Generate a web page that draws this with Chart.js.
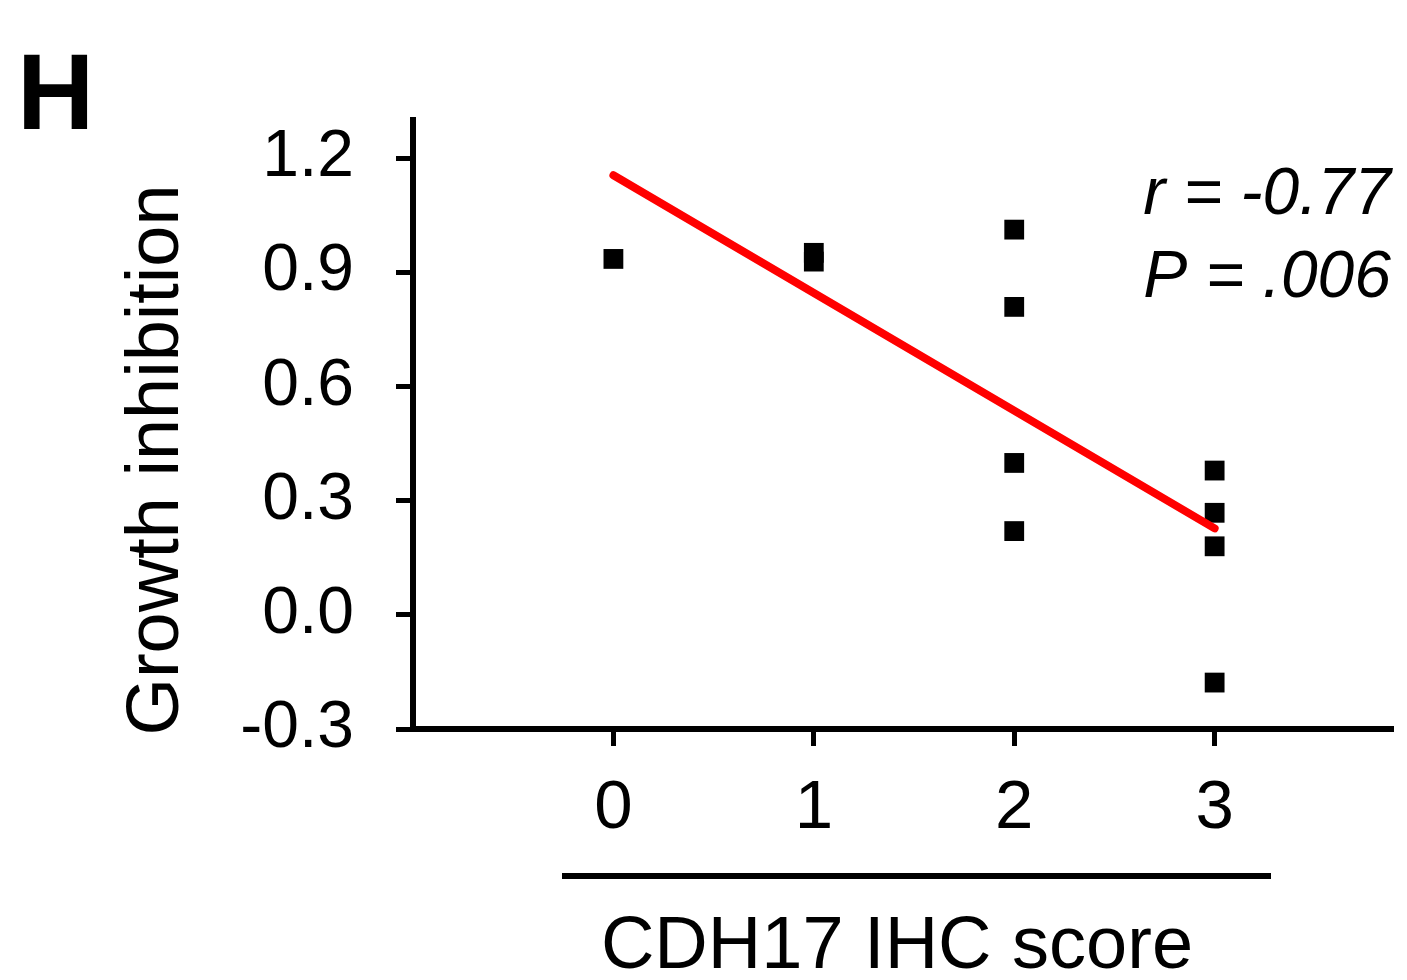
<!DOCTYPE html>
<html>
<head>
<meta charset="utf-8">
<script src="https://cdn.jsdelivr.net/npm/chart.js@4/dist/chart.umd.min.js"></script>
<style>
  html, body { margin: 0; padding: 0; background: #fff; }
  canvas { display: block; }
</style>
</head>
<body>
<canvas id="myChart" width="1407" height="980"></canvas>
<script>
// data
const scores = [0, 1, 1, 2, 2, 2, 2, 3, 3, 3, 3];
const inhibition = [0.935, 0.951, 0.928, 1.012, 0.809, 0.399, 0.220, 0.379, 0.268, 0.180, -0.178];
const fitX = [0, 3];
const fitY = [1.155, 0.227];
const xTicks = [0, 1, 2, 3];
const yTicks = [-0.3, 0, 0.3, 0.6, 0.9, 1.2];

const FONT = "'Liberation Sans', Arial, sans-serif";

const points = scores.map((s, i) => ({ x: s, y: inhibition[i] }));
const fit = fitX.map((x, i) => ({ x: x, y: fitY[i] }));

// panel letter, stats, axis titles and the rule under the x ticks
const extras = {
    id: 'extras',
    afterDraw(chart) {
        const c = chart.ctx;
        c.save();
        c.fillStyle = '#000';
        c.textBaseline = 'alphabetic';

        c.font = 'bold 107px ' + FONT;
        c.textAlign = 'left';
        c.fillText('H', 17, 129);

        c.font = 'italic 66px ' + FONT;
        c.textAlign = 'right';
        c.fillText('r = -0.77', 1391, 214);
        c.fillText('P = .006', 1391, 297);

        c.font = '74px ' + FONT;
        c.textAlign = 'center';
        c.fillText('CDH17 IHC score', 897, 968);

        c.strokeStyle = '#000';
        c.lineWidth = 6;
        c.beginPath();
        c.moveTo(562, 876);
        c.lineTo(1271, 876);
        c.stroke();

        c.translate(178, 460);
        c.rotate(-Math.PI / 2);
        c.font = '74px ' + FONT;
        c.textAlign = 'center';
        c.fillText('Growth inhibition', 0, 0);
        c.restore();
    }
};

const ctx = document.getElementById('myChart').getContext('2d');
const myChart = new Chart(ctx, {
    type: 'scatter',
    data: {
        datasets: [
            {
                type: 'line',
                label: 'fit',
                data: fit,
                borderColor: '#ff0000',
                borderWidth: 8,
                borderCapStyle: 'round',
                pointRadius: 0,
                fill: false,
                order: 0
            },
            {
                label: 'Growth inhibition',
                data: points,
                pointStyle: 'rect',
                pointRadius: 14,
                pointHoverRadius: 14,
                backgroundColor: '#000',
                borderWidth: 0,
                order: 1
            }
        ]
    },
    options: {
        responsive: false,
        animation: false,
        events: [],
        layout: { padding: { top: 120, right: 0, bottom: 0, left: 0 } },
        plugins: {
            legend: { display: false },
            tooltip: { enabled: false }
        },
        scales: {
            x: {
                type: 'linear',
                min: -1,
                max: 3.89,
                afterBuildTicks: (s) => { s.ticks = xTicks.map(v => ({ value: v })); },
                afterFit: (s) => { s.height = 251; },
                border: { display: true, color: '#000', width: 6 },
                grid: { drawOnChartArea: false, drawTicks: true, tickLength: 17, tickWidth: 5, tickColor: '#000' },
                ticks: {
                    color: '#000',
                    padding: 22,
                    font: { family: FONT, size: 69 },
                    maxRotation: 0,
                    callback: (v) => String(v)
                }
            },
            y: {
                type: 'linear',
                min: -0.3,
                max: 1.3,
                afterBuildTicks: (s) => { s.ticks = yTicks.map(v => ({ value: v })); },
                afterFit: (s) => { s.width = 413; },
                border: { display: true, color: '#000', width: 6 },
                grid: { drawOnChartArea: false, drawTicks: true, tickLength: 17, tickWidth: 5, tickColor: '#000' },
                ticks: {
                    color: '#000',
                    padding: 42,
                    font: { family: FONT, size: 66 },
                    callback: (v) => v.toFixed(1)
                }
            }
        }
    },
    plugins: [extras]
});
</script>
</body>
</html>
